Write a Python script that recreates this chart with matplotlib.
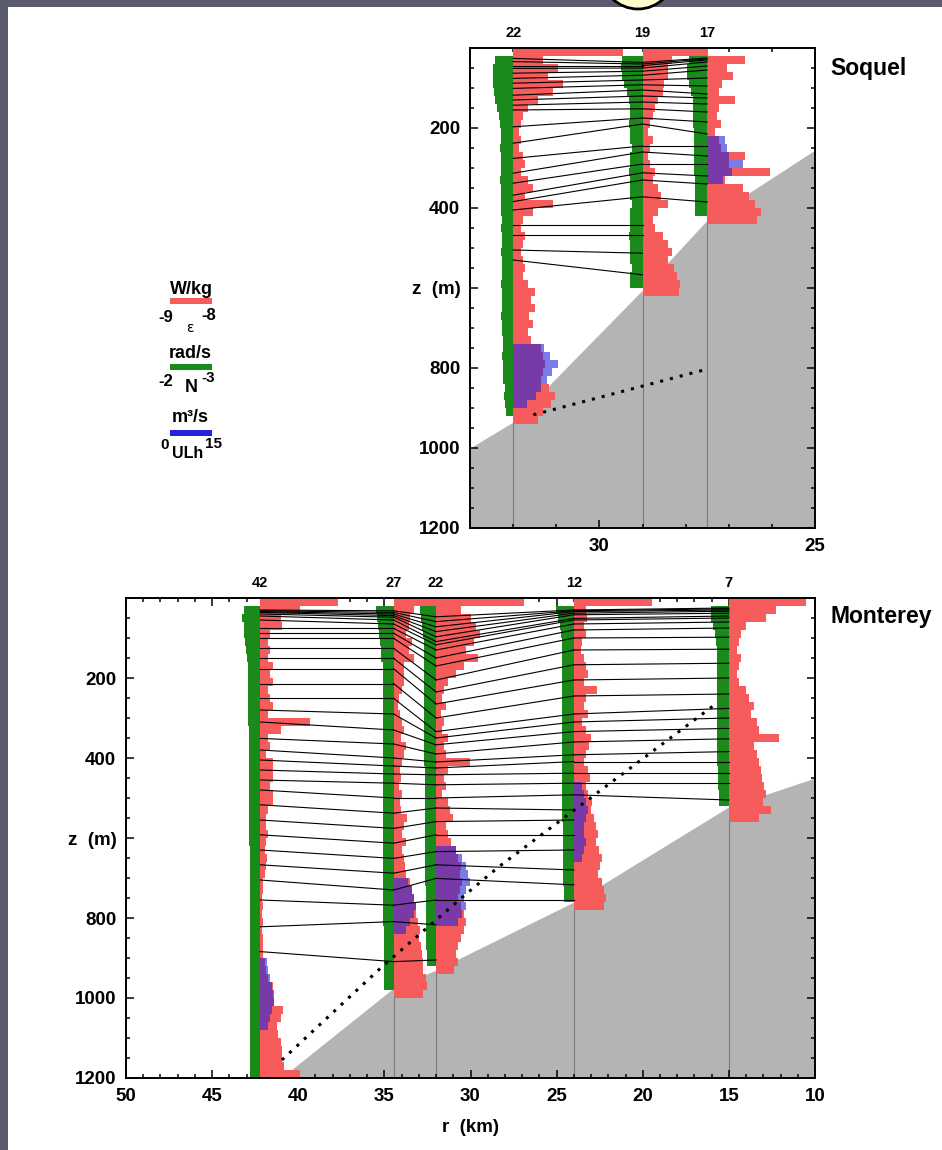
import numpy as np
import matplotlib.pyplot as plt
from matplotlib.patches import Rectangle, Ellipse
from matplotlib.ticker import MultipleLocator
import matplotlib.transforms as mtransforms

plt.rcParams['font.family'] = ['Liberation Sans', 'DejaVu Sans']
plt.rcParams['font.weight'] = 'bold'

nan = np.nan
BIN = 20          # profile bin size (m)
UNIT_PX = 42      # legend bar length: one decade / 15 m^3/s

# ---------------- Soquel section (stations 22, 19, 17) ----------------
soq_names = ['22', '19', '17']
soq_r = [32.0, 29.0, 27.5]

# log10 epsilon (W/kg), 20 m bins from the surface
soq22_eps = [-6.38, -8.29, -7.93, -8.17, -7.81, -8.05, -8.40, -8.64, -8.76, -8.81,
             -8.86, -8.81, -8.86, -8.76, -8.71, -8.81, -8.64, -8.52, -8.71, -8.05,
             -8.52, -8.76, -8.81, -8.71, -8.76, -8.81, -8.76, -8.71, -8.76, -8.64,
             -8.48, -8.57, -8.48, -8.62, -8.52, -8.64, -8.57, -8.33, -8.29, -8.24,
             -8.29, -8.33, -8.14, -8.00, -8.10, -8.29, -8.40]
soq19_eps = [-7.45, -8.29, -8.40, -8.40, -8.48, -8.52, -8.64, -8.71, -8.76, -8.81,
             -8.86, -8.76, -8.81, -8.86, -8.81, -8.71, -8.76, -8.64, -8.57, -8.40,
             -8.64, -8.76, -8.71, -8.52, -8.40, -8.29, -8.40, -8.24, -8.17, -8.10, -8.14]
soq17_eps = [-9.00, -8.10, -8.52, -8.38, -8.64, -8.71, -8.33, -8.71, -8.76, -8.67,
             -8.81, -8.71, -8.67, -8.10, -8.48, -7.50, -8.57, -8.14, -8.00, -7.86,
             -7.71, -7.81]

# log10 N (rad/s)
soq22_n = [nan, -2.57, -2.52, -2.52, -2.52, -2.55, -2.57, -2.62, -2.67, -2.69,
           -2.71, -2.71, -2.69, -2.71, -2.71, -2.71, -2.69, -2.71, -2.71, -2.71,
           -2.71, -2.74, -2.71, -2.74, -2.74, -2.71, -2.74, -2.74, -2.74, -2.71,
           -2.74, -2.74, -2.74, -2.71, -2.74, -2.74, -2.76, -2.76, -2.74, -2.76,
           -2.76, -2.76, -2.81, -2.79, -2.81, -2.83]
soq19_n = [nan, -2.52, -2.48, -2.52, -2.57, -2.62, -2.67, -2.71, -2.71, -2.69,
           -2.71, -2.71, -2.74, -2.71, -2.71, -2.69, -2.71, -2.71, -2.71, -2.74,
           -2.71, -2.71, -2.71, -2.69, -2.71, -2.71, -2.71, -2.74, -2.71, -2.71]
soq17_n = [nan, -2.57, -2.52, -2.52, -2.57, -2.62, -2.67, -2.67, -2.67, -2.67,
           -2.69, -2.69, -2.69, -2.69, -2.69, -2.69, -2.71, -2.71, -2.71, -2.71, -2.71]

# ULh (m^3/s): depth of first bin, values
soq22_ulh_top, soq22_ulh = 740, [11.0, 13.0, 16.0, 14.0, 12.0, 10.0, 8.0, 5.0]
soq19_ulh_top, soq19_ulh = 0, []
soq17_ulh_top, soq17_ulh = 220, [6.4, 7.1, 7.9, 12.9, 8.9, 5.7]

# isopycnal depths (m) at each station
soq22_iso = [26, 34, 44, 51, 63, 76, 88, 101, 118, 130, 143, 155,
             197, 238, 276, 313, 338, 368, 384, 405, 443, 468, 505, 530]
soq19_iso = [36, 40, 44, 50, 58, 68, 80, 92, 105, 120, 135, 152,
             175, 190, 245, 260, 290, 312, 330, 372, 443, 468, 513, 567]
soq17_iso = [25, 27, 30, 35, 45, 55, 75, 95, 115, 125, 140, 160,
             185, 215, 245, 270, 290, 320, 340, 385, nan, nan, nan, nan]

soq_bathy_r = [33.0, 32.0, 29.0, 27.5, 25.0]
soq_bathy_z = [1000, 935, 605, 430, 255]
soq_dot_r = [31.53, 27.58]
soq_dot_z = [917, 805]

# ---------------- Monterey section (stations 42, 27, 22, 12, 7) ----------------
mon_names = ['42', '27', '22', '12', '7']
mon_r = [42.2, 34.46, 32.0, 24.0, 15.0]

mon42_eps = [-7.14, -8.05, -8.52, -8.48, -8.76, -8.81, -8.76, -8.81, -8.71, -8.76,
             -8.69, -8.81, -8.76, -8.69, -8.81, -7.81, -8.52, -8.81, -8.76, -8.86,
             -8.69, -8.71, -8.69, -8.76, -8.71, -8.71, -8.81, -8.86, -8.86, -8.81,
             -8.86, -8.88, -8.83, -8.86, -8.88, -8.93, -8.93, -8.95, -8.93, -8.95,
             -8.93, -8.95, -8.93, -8.93, -8.93, -8.88, -8.86, -8.81, -8.69, -8.71,
             -8.67, -8.45, -8.52, -8.60, -8.57, -8.52, -8.48, -8.48, -8.43, -8.05]
mon27_eps = [-5.90, -8.52, -8.60, -8.64, -8.71, -8.57, -8.64, -8.52, -8.76, -8.76,
             -8.76, -8.81, -8.88, -8.90, -8.86, -8.81, -8.76, -8.83, -8.71, -8.76,
             -8.81, -8.86, -8.83, -8.88, -8.81, -8.86, -8.83, -8.69, -8.76, -8.81,
             -8.71, -8.79, -8.76, -8.74, -8.71, -8.62, -8.57, -8.52, -8.48, -8.48,
             -8.43, -8.38, -8.40, -8.36, -8.33, -8.29, -8.29, -8.24, -8.21, -8.29]
mon22_eps = [-7.81, -8.40, -8.17, -8.05, -7.95, -8.10, -8.29, -8.00, -8.33, -8.52,
             -8.71, -8.81, -8.86, -8.76, -8.88, -8.81, -8.86, -8.71, -8.81, -8.76,
             -8.19, -8.71, -8.81, -8.76, -8.86, -8.71, -8.67, -8.60, -8.76, -8.71,
             -8.64, -8.52, -8.48, -8.40, -8.43, -8.38, -8.43, -8.48, -8.40, -8.33,
             -8.29, -8.33, -8.40, -8.48, -8.52, -8.48, -8.57]
mon12_eps = [-7.14, -8.71, -8.69, -8.76, -8.71, -8.81, -8.83, -8.76, -8.71, -8.67,
             -8.76, -8.45, -8.71, -8.76, -8.67, -8.81, -8.71, -8.60, -8.64, -8.71,
             -8.76, -8.67, -8.62, -8.71, -8.67, -8.57, -8.60, -8.52, -8.48, -8.43,
             -8.48, -8.40, -8.33, -8.38, -8.43, -8.33, -8.29, -8.24, -8.29]
mon7_eps = [-7.17, -7.88, -8.12, -8.60, -8.71, -8.76, -8.81, -8.71, -8.76, -8.81,
            -8.76, -8.60, -8.52, -8.40, -8.48, -8.33, -8.29, -7.81, -8.40, -8.33,
            -8.29, -8.24, -8.21, -8.17, -8.12, -8.19, -8.00, -8.29]

mon42_n = [nan, -2.60, -2.57, -2.60, -2.62, -2.64, -2.67, -2.69, -2.71, -2.71,
           -2.71, -2.71, -2.71, -2.71, -2.71, -2.71, -2.74, -2.74, -2.74, -2.74,
           -2.74, -2.74, -2.74, -2.74, -2.74, -2.74, -2.74, -2.74, -2.74, -2.74,
           -2.74, -2.76, -2.76, -2.76, -2.76, -2.76, -2.76, -2.76, -2.76, -2.76,
           -2.76, -2.76, -2.76, -2.76, -2.76, -2.76, -2.76, -2.76, -2.76, -2.76,
           -2.76, -2.76, -2.76, -2.76, -2.76, -2.76, -2.76, -2.76, -2.76, -2.76]
mon27_n = [nan, -2.57, -2.60, -2.62, -2.64, -2.67, -2.69, -2.71, -2.74, -2.74,
           -2.74, -2.74, -2.74, -2.74, -2.74, -2.74, -2.74, -2.74, -2.74, -2.74,
           -2.74, -2.74, -2.74, -2.74, -2.74, -2.74, -2.74, -2.74, -2.74, -2.74,
           -2.74, -2.74, -2.74, -2.74, -2.74, -2.74, -2.74, -2.74, -2.74, -2.74,
           -2.74, -2.76, -2.76, -2.76, -2.76, -2.76, -2.76, -2.76, -2.76]
mon22_n = [nan, -2.62, -2.64, -2.67, -2.69, -2.71, -2.71, -2.71, -2.71, -2.71,
           -2.71, -2.71, -2.71, -2.71, -2.71, -2.71, -2.71, -2.71, -2.71, -2.71,
           -2.71, -2.74, -2.74, -2.74, -2.74, -2.74, -2.74, -2.74, -2.74, -2.74,
           -2.74, -2.74, -2.74, -2.74, -2.74, -2.74, -2.76, -2.76, -2.76, -2.76,
           -2.76, -2.76, -2.76, -2.76, -2.79, -2.79]
mon12_n = [nan, -2.57, -2.62, -2.67, -2.69, -2.71, -2.71, -2.71, -2.71, -2.71,
           -2.71, -2.71, -2.71, -2.71, -2.71, -2.71, -2.71, -2.71, -2.71, -2.71,
           -2.71, -2.71, -2.71, -2.71, -2.71, -2.71, -2.71, -2.71, -2.74, -2.74,
           -2.74, -2.74, -2.74, -2.74, -2.74, -2.74, -2.76, -2.76]
mon7_n = [nan, -2.57, -2.57, -2.62, -2.67, -2.69, -2.71, -2.71, -2.71, -2.71,
          -2.71, -2.71, -2.71, -2.71, -2.71, -2.71, -2.71, -2.71, -2.71, -2.71,
          -2.71, -2.74, -2.74, -2.74, -2.76, -2.76]

mon42_ulh_top, mon42_ulh = 900, [2.5, 2.9, 3.6, 4.3, 5.0, 5.0, 4.3, 3.6, 2.9]
mon27_ulh_top, mon27_ulh = 700, [5.0, 6.4, 7.1, 7.9, 7.1, 5.7, 4.3]
mon22_ulh_top, mon22_ulh = 620, [7.1, 9.3, 10.7, 11.4, 12.1, 10.7, 10.0, 10.7, 9.3, 7.9]
mon12_ulh_top, mon12_ulh = 460, [2.9, 3.6, 4.3, 5.0, 4.3, 3.6, 3.6, 4.3, 3.6, 2.9]
mon7_ulh_top, mon7_ulh = 0, []

mon42_iso = [30, 32, 34, 36, 40, 45, 55, 76, 88, 101, 126, 151, 177, 214, 251, 280,
             310, 351, 380, 405, 430, 455, 480, 517, 555, 592, 630, 667, 705, 755, 822, 884]
mon27_iso = [32, 36, 40, 44, 48, 55, 65, 76, 88, 101, 126, 151, 177, 214, 251, 290,
             330, 365, 400, 420, 440, 463, 500, 538, 576, 613, 651, 688, 730, 768, 809, 909]
mon22_iso = [47, 59, 72, 84, 97, 109, 117, 130, 150, 170, 205, 235, 265, 300, 334, 350,
             367, 390, 410, 425, 442, 467, 500, 525, 559, 592, 634, 667, 701, 755, 817, 905]
mon12_iso = [30, 32, 34, 38, 42, 51, 55, 65, 80, 100, 130, 167, 205, 245, 290, 310,
             334, 360, 392, 409, 438, 463, 492, 530, 555, 592, 630, 680, 717, 755, nan, nan]
mon7_iso = [25, 27, 30, 33, 38, 45, 50, 60, 75, 98, 128, 163, 200, 240, 276, 300,
            326, 352, 384, 409, 438, 463, 505, nan, nan, nan, nan, nan, nan, nan, nan, nan]

mon_bathy_r = [41.0, 34.46, 32.0, 24.0, 15.0, 10.0]
mon_bathy_z = [1200, 975, 930, 760, 522, 450]
mon_dot_r = [40.95, 35.14, 30.2, 28.36, 15.86]
mon_dot_z = [1155, 922, 738, 672, 268]

RED = '#f65c5c'
GREEN = '#1a8a1a'
BLUE = '#2424d8'
GRAY = '#b4b4b4'

W, H = 942, 1150
fig = plt.figure(figsize=(W / 100, H / 100), dpi=100)
fig.patch.set_facecolor('#5a5c6c')
fig.add_artist(Rectangle((8 / W, 0), 1, 1 - 7 / H, transform=fig.transFigure,
                         facecolor='white', edgecolor='none', zorder=-2))
fig.add_artist(Ellipse((638 / 100, (H + 28) / 100), 0.74, 0.74, transform=fig.dpi_scale_trans,
                       facecolor='#fffbcc', edgecolor='black', lw=2, zorder=-1))


def fx(x):
    return x / W


def fy(y):
    return 1 - y / H


def draw_section(ax, names, rs, eps_list, n_list, ulh_list, iso_list,
                 bathy_r, bathy_z, dot_r, dot_z, xlim):
    ax.set_xlim(*xlim)
    ax.set_ylim(1200, 0)
    w_px = ax.get_position().width * fig.get_figwidth() * fig.dpi
    unit = UNIT_PX * abs(xlim[0] - xlim[1]) / w_px   # km per legend unit

    ax.fill_between(bathy_r, bathy_z, 1200, color=GRAY, lw=0, zorder=1)
    trans = mtransforms.blended_transform_factory(ax.transData, ax.transAxes)

    for name, r, eps, nn, (utop, ulh) in zip(names, rs, eps_list, n_list, ulh_list):
        eps = np.array(eps)
        z = np.arange(len(eps)) * BIN + BIN / 2
        ax.barh(z, -(eps + 9) * unit, left=r, height=BIN * 0.88, color=RED, lw=0, zorder=2)
        nn = np.array(nn, dtype=float)
        zn = np.arange(len(nn)) * BIN + BIN / 2
        ok = ~np.isnan(nn)
        ax.barh(zn[ok], (nn[ok] + 3) * unit, left=r, height=BIN * 0.88, color=GREEN, lw=0, zorder=2)
        if ulh:
            zu = utop + np.arange(len(ulh)) * BIN + BIN / 2
            ax.barh(zu, -np.array(ulh) / 15 * unit, left=r, height=BIN * 0.88,
                    color=BLUE, alpha=0.6, lw=0, zorder=3)
        ax.plot([r, r], [len(eps) * BIN, 1200], color='#7c7c7c', lw=0.8, zorder=1.5)
        ax.text(r, 1.031, name, transform=trans, ha='center', va='center', fontsize=10.5)

    for i in range(len(rs) - 1):
        za, zb = iso_list[i], iso_list[i + 1]
        for a, b in zip(za, zb):
            if np.isnan(a) or np.isnan(b):
                continue
            ax.plot([rs[i], rs[i + 1]], [a, b], color='black', lw=0.8, zorder=4)

    ax.plot(dot_r, dot_z, color='black', lw=2.2, ls=(0, (1, 2.3)), zorder=5)

    ax.xaxis.set_major_locator(MultipleLocator(5))
    ax.xaxis.set_minor_locator(MultipleLocator(1))
    ax.set_yticks([200, 400, 600, 800, 1000, 1200])
    ax.set_yticklabels(['200', '400', 'z  (m)', '800', '1000', '1200'])
    ax.yaxis.set_minor_locator(MultipleLocator(50))
    ax.tick_params(which='both', direction='in', top=True, right=True, width=1.1,
                   labelsize=13.5, pad=7)
    ax.tick_params(which='major', length=6)
    ax.tick_params(which='minor', length=3)
    for sp in ax.spines.values():
        sp.set_linewidth(1.4)


ax1 = fig.add_axes([fx(470), fy(528), 345 / W, 480 / H])
ax2 = fig.add_axes([fx(126), fy(1078), 689 / W, 480 / H])

draw_section(ax1, soq_names, soq_r,
             [soq22_eps, soq19_eps, soq17_eps],
             [soq22_n, soq19_n, soq17_n],
             [(soq22_ulh_top, soq22_ulh), (soq19_ulh_top, soq19_ulh), (soq17_ulh_top, soq17_ulh)],
             [soq22_iso, soq19_iso, soq17_iso],
             soq_bathy_r, soq_bathy_z, soq_dot_r, soq_dot_z, (33, 25))
draw_section(ax2, mon_names, mon_r,
             [mon42_eps, mon27_eps, mon22_eps, mon12_eps, mon7_eps],
             [mon42_n, mon27_n, mon22_n, mon12_n, mon7_n],
             [(mon42_ulh_top, mon42_ulh), (mon27_ulh_top, mon27_ulh), (mon22_ulh_top, mon22_ulh),
              (mon12_ulh_top, mon12_ulh), (mon7_ulh_top, mon7_ulh)],
             [mon42_iso, mon27_iso, mon22_iso, mon12_iso, mon7_iso],
             mon_bathy_r, mon_bathy_z, mon_dot_r, mon_dot_z, (50, 10))
ax2.set_xlabel('r  (km)', fontsize=13.5, fontweight='bold', labelpad=10)

fig.text(fx(830), fy(68), 'Soquel', ha='left', va='center', fontsize=16.5)
fig.text(fx(830), fy(617), 'Monterey', ha='left', va='center', fontsize=16.5)

# legend
fig.text(fx(191), fy(289), 'W/kg', ha='center', va='center', fontsize=13)
fig.add_artist(Rectangle((fx(170), fy(304)), 42 / W, 6 / H, transform=fig.transFigure,
                         facecolor=RED, edgecolor='none'))
fig.text(fx(166), fy(317), '-9', ha='center', va='center', fontsize=12)
fig.text(fx(190), fy(328), 'ε', ha='center', va='center', fontsize=10,
         fontweight='normal', family=['DejaVu Sans'])
fig.text(fx(209), fy(316), '-8', ha='center', va='center', fontsize=12)

fig.text(fx(190), fy(353), 'rad/s', ha='center', va='center', fontsize=13)
fig.add_artist(Rectangle((fx(170), fy(370)), 42 / W, 6 / H, transform=fig.transFigure,
                         facecolor=GREEN, edgecolor='none'))
fig.text(fx(166), fy(381), '-2', ha='center', va='center', fontsize=12)
fig.text(fx(191), fy(388), 'N', ha='center', va='center', fontsize=13)
fig.text(fx(208), fy(378), '-3', ha='center', va='center', fontsize=11)

fig.text(fx(190), fy(418), 'm³/s', ha='center', va='center', fontsize=13)
fig.add_artist(Rectangle((fx(170), fy(436)), 42 / W, 6 / H, transform=fig.transFigure,
                         facecolor=BLUE, edgecolor='none'))
fig.text(fx(165), fy(445), '0', ha='center', va='center', fontsize=11)
fig.text(fx(188), fy(454), 'ULh', ha='center', va='center', fontsize=11.5)
fig.text(fx(214), fy(444), '15', ha='center', va='center', fontsize=11)

fig.savefig('out.png', dpi=100, facecolor=fig.get_facecolor())
